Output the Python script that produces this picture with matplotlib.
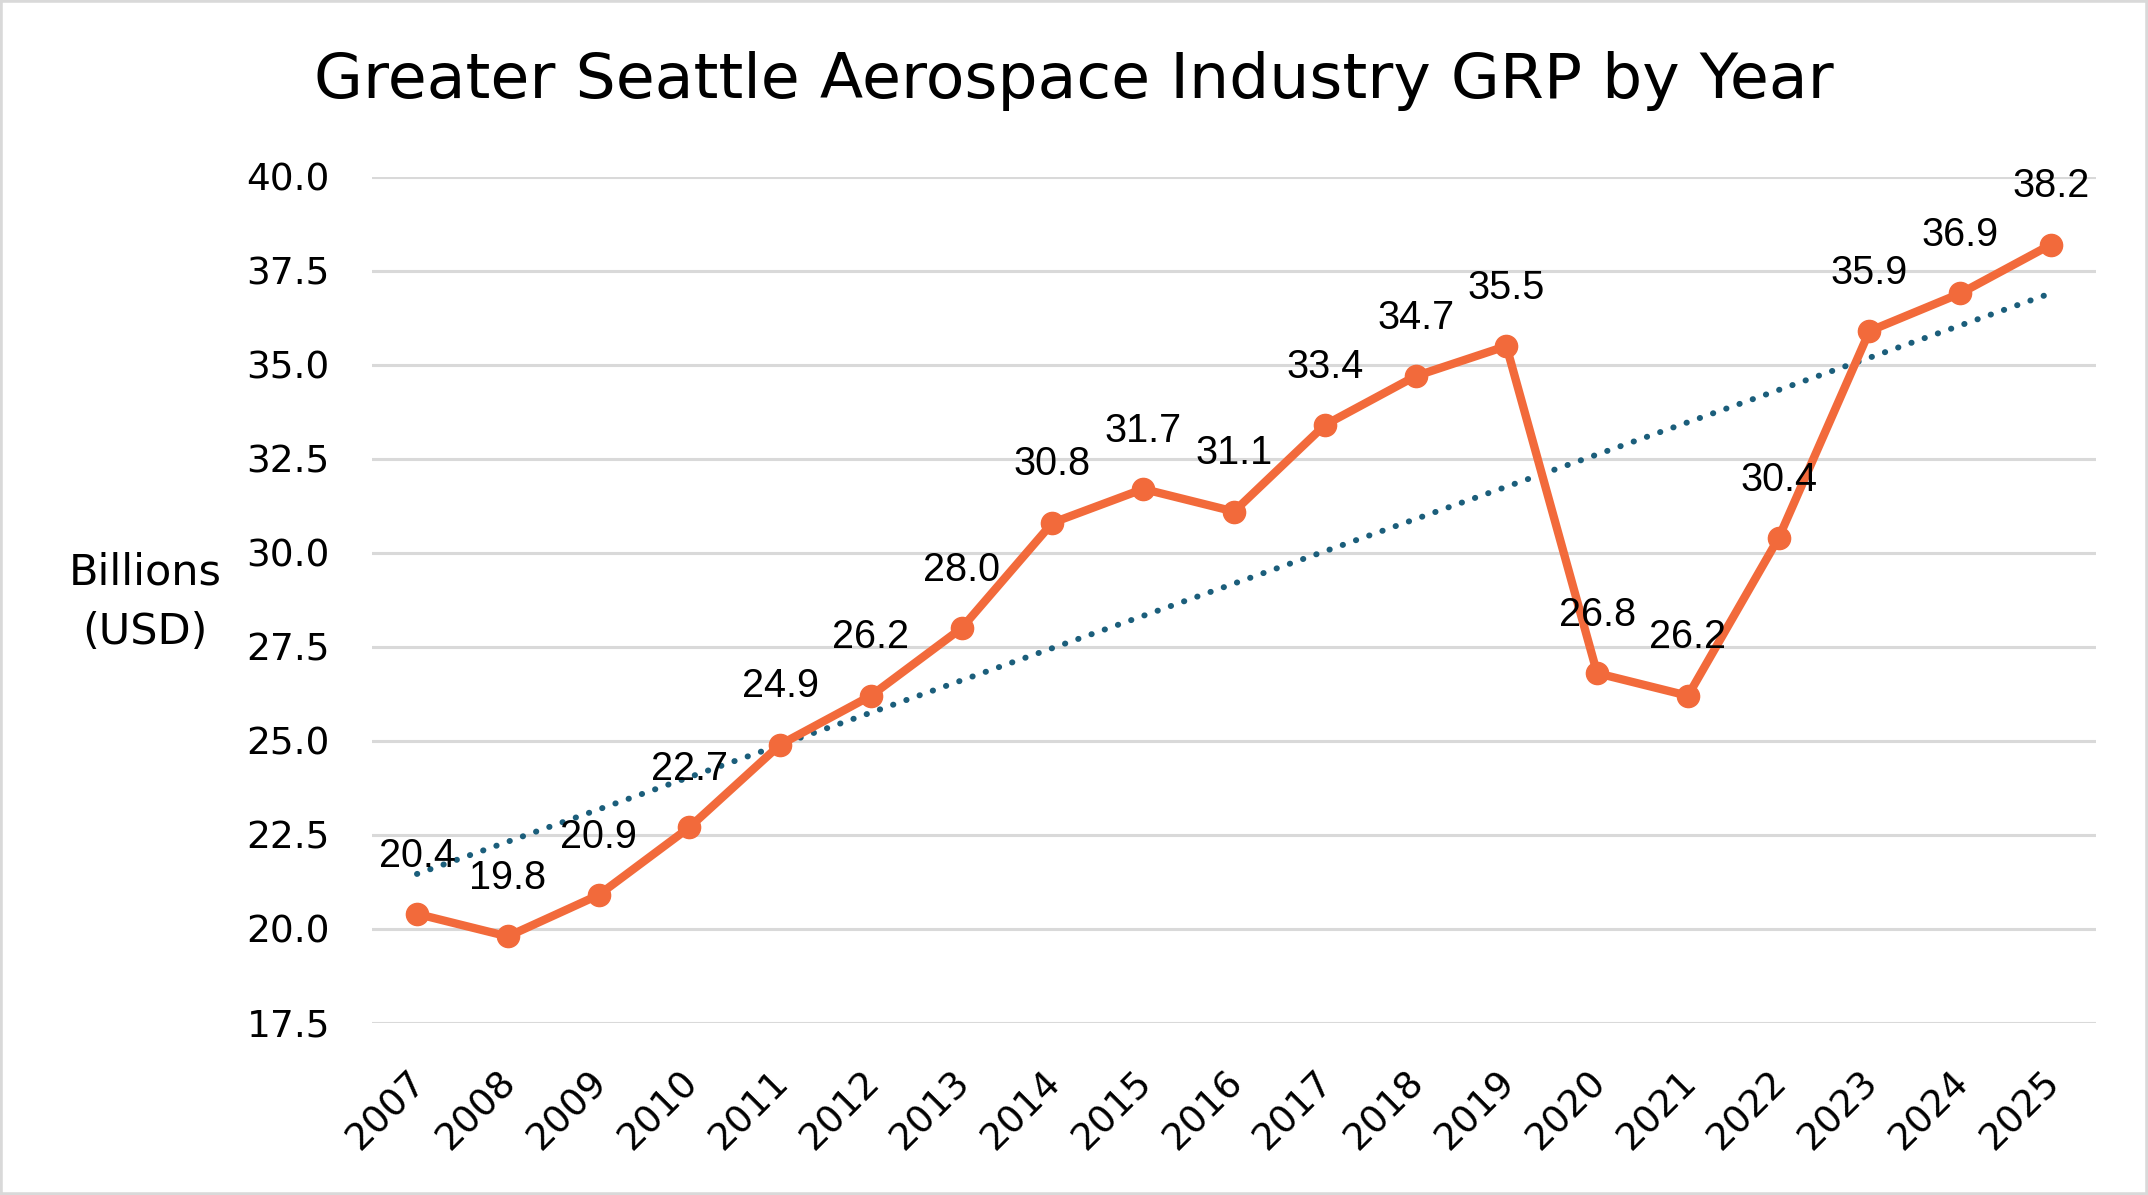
import numpy as np
import matplotlib
matplotlib.use("Agg")
import matplotlib.pyplot as plt
from matplotlib.patches import Rectangle
from matplotlib.transforms import ScaledTranslation

years = ["2007", "2008", "2009", "2010", "2011", "2012", "2013", "2014", "2015", "2016",
         "2017", "2018", "2019", "2020", "2021", "2022", "2023", "2024", "2025"]
grp = [20.4, 19.8, 20.9, 22.7, 24.9, 26.2, 28.0, 30.8, 31.7, 31.1,
       33.4, 34.7, 35.5, 26.8, 26.2, 30.4, 35.9, 36.9, 38.2]
y_ticks = [17.5, 20.0, 22.5, 25.0, 27.5, 30.0, 32.5, 35.0, 37.5, 40.0]

ORANGE = "#f26a3b"
TEAL = "#1b5e7b"
GRID = "#d9d9d9"
FONT = "DejaVu Sans"

fig = plt.figure(figsize=(21.48, 11.95), dpi=100)
ax = fig.add_axes([0.173, 0.144, 0.803, 0.708])

x = np.arange(len(years))

# linear trendline
slope, icpt = np.polyfit(x, grp, 1)
ax.plot(x, slope * x + icpt, color=TEAL, lw=4.3, linestyle=(0, (0.05, 2.3)),
        dash_capstyle="round", zorder=2)

ax.plot(x, grp, color=ORANGE, lw=6, marker="o", markersize=16,
        solid_joinstyle="round", zorder=3)

for xi, v in zip(x, grp):
    ax.annotate(f"{v:.1f}", (xi, v), xytext=(0, 42), textcoords="offset points",
                ha="center", va="center", fontsize=28.5, family="Liberation Sans",
                color="black", zorder=4)

ax.set_xlim(-0.5, len(years) - 0.5)
ax.set_ylim(17.5, 40.0)
ax.set_yticks(y_ticks)
ax.set_yticklabels([f"{t:.1f}" for t in y_ticks], fontsize=27, family=FONT)
ax.set_xticks(x)
ax.set_xticklabels(years, fontsize=27, family=FONT, rotation=45,
                   ha="right", rotation_mode="anchor")
ax.tick_params(axis="y", length=0, pad=30)
ax.tick_params(axis="x", length=0, pad=30)
shift = ScaledTranslation(-7 / 72, 0, fig.dpi_scale_trans)
for lbl in ax.get_xticklabels():
    lbl.set_transform(lbl.get_transform() + shift)

ax.grid(axis="y", color=GRID, lw=2.2)
ax.set_axisbelow(True)
for s in ax.spines.values():
    s.set_visible(False)

fig.text(0.0675, 0.496, "Billions\n(USD)", ha="center", va="center",
         fontsize=31, family=FONT, linespacing=1.55)
fig.text(0.5, 0.932, "Greater Seattle Aerospace Industry GRP by Year",
         ha="center", va="center", fontsize=45.5, family=FONT)

fig.patches.append(Rectangle((0, 0), 1, 1, transform=fig.transFigure, fill=False,
                             edgecolor=GRID, lw=4))

fig.savefig("out.png", dpi=100)
